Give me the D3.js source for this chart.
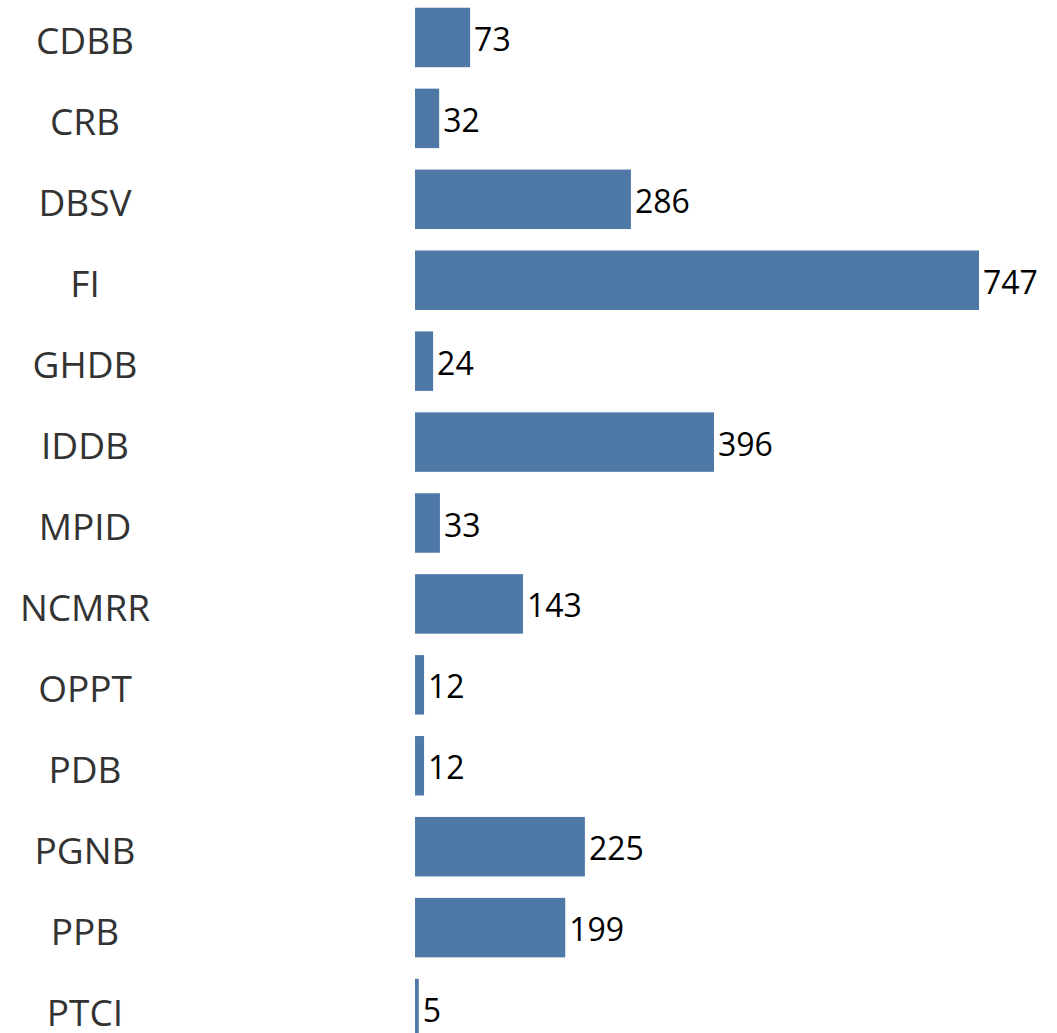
<!DOCTYPE html>
<html>
<head>
<meta charset="utf-8">
<script src="https://cdn.jsdelivr.net/npm/d3@7"></script>
<style>
  body { margin: 0; background: #fff; }
  .cat { font-family: "Open Sans", sans-serif; font-size: 37px; fill: #333; }
  .val { font-family: "Open Sans", sans-serif; font-size: 32px; fill: #000; }
</style>
</head>
<body>
<div id="chart"></div>
<script>
var svgWidth = 1057;
var svgHeight = 1033;

var categories = ['CDBB', 'CRB', 'DBSV', 'FI', 'GHDB', 'IDDB', 'MPID', 'NCMRR', 'OPPT', 'PDB', 'PGNB', 'PPB', 'PTCI'];
var counts = [73, 32, 286, 747, 24, 396, 33, 143, 12, 12, 225, 199, 5];

var data = categories.map(function(c, i) { return {cat: c, value: counts[i]}; });

var svg = d3.select('#chart')
    .append('svg')
    .attr('width', svgWidth)
    .attr('height', svgHeight);

var xScale = d3.scaleLinear()
    .domain([0, 747])
    .range([415, 979]);

var yScale = d3.scaleBand()
    .domain(categories)
    .range([-3, 1049])
    .paddingInner(0.265)
    .paddingOuter(0.1325);

// bars
svg.selectAll('rect')
    .data(data)
    .enter()
    .append('rect')
    .attr('x', xScale(0))
    .attr('y', d => yScale(d.cat))
    .attr('width', d => xScale(d.value) - xScale(0))
    .attr('height', yScale.bandwidth())
    .attr('fill', '#4e79a7');

// category labels
svg.selectAll('.cat')
    .data(data)
    .enter()
    .append('text')
    .attr('class', 'cat')
    .attr('x', 85)
    .attr('y', d => yScale(d.cat) + yScale.bandwidth() / 2 + 17)
    .attr('text-anchor', 'middle')
    .text(d => d.cat);

// value labels
svg.selectAll('.val')
    .data(data)
    .enter()
    .append('text')
    .attr('class', 'val')
    .attr('x', d => xScale(d.value) + 4)
    .attr('y', d => yScale(d.cat) + yScale.bandwidth() / 2 + 13.5)
    .text(d => d.value);
</script>
</body>
</html>
